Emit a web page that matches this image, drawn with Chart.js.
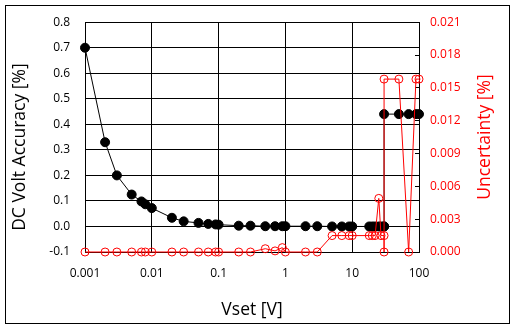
<!DOCTYPE html>
<html>
<head>
<meta charset="utf-8">
<script src="https://cdn.jsdelivr.net/npm/chart.js@4"></script>
<style>
  body { margin: 0; background: #fff; }
  #wrap { position: relative; width: 516px; height: 329px; }
  #frame { position: absolute; left: 5px; top: 5px; width: 503px; height: 317px; border: 1px solid #000; }
  #chart { position: absolute; left: 0; top: 0; }
</style>
</head>
<body>
<div id="wrap">
  <div id="frame"></div>
  <canvas id="chart" width="516" height="329"></canvas>
</div>
<script>
// Vset [V] of each reading (30 V appears several times)
const vset = [0.001, 0.002, 0.003, 0.005, 0.007, 0.008, 0.01,
              0.02, 0.03, 0.05, 0.07, 0.09, 0.1,
              0.2, 0.3, 0.5, 0.7, 0.9, 1,
              2, 3, 5, 7, 9, 10,
              18, 20, 22, 25, 27,
              30, 30, 30,
              50, 70, 90, 100];

// DC volt accuracy [%] (left axis)
const accuracy = [0.70, 0.33, 0.20, 0.125, 0.098, 0.087, 0.072,
                  0.034, 0.02, 0.014, 0.01, 0.008, 0.007,
                  0.003, 0.003, 0.001, 0.001, 0.001, 0.001,
                  0.001, 0.001, 0, 0, 0, 0,
                  0, 0, 0, 0, 0,
                  0, 0, 0.44,
                  0.44, 0.44, 0.44, 0.44];

// Uncertainty [%] (right axis)
const uncertainty = [0, 0, 0, 0, 0, 0, 0,
                     0, 0, 0, 0, 0, 0,
                     0, 0, 0.0003, 0.0001, 0.0004, 0,
                     0, 0, 0.0015, 0.0015, 0.0015, 0.0015,
                     0.0015, 0.0015, 0.0015, 0.0049, 0.0015,
                     0.0015, 0, 0.0158,
                     0.0158, 0, 0.0158, 0.0158];

const xTicks = [0.001, 0.01, 0.1, 1, 10, 100];
const xTickLabels = ['0.001', '0.01', '0.1', '1', '10', '100'];
const yLeftTicks = [-0.1, 0, 0.1, 0.2, 0.3, 0.4, 0.5, 0.6, 0.7, 0.8];
const yRightTicks = [0, 0.003, 0.006, 0.009, 0.012, 0.015, 0.018, 0.021];

const xTitle = 'Vset [V]';
const leftTitle = 'DC Volt Accuracy [%]';
const rightTitle = 'Uncertainty [%]';
const titleFont = "17.5px 'Open Sans', sans-serif";

Chart.defaults.font.family = "'Open Sans', sans-serif";
Chart.defaults.font.size = 12;
Chart.defaults.color = '#000';

const accPoints = vset.map((v, i) => ({ x: v, y: accuracy[i] }));
const uncPoints = vset.map((v, i) => ({ x: v, y: uncertainty[i] }));

// both y titles read bottom-to-top, chart.js turns the right one the other way
function drawUpTitle(c, text, x, y, color) {
    c.save();
    c.translate(x, y);
    c.rotate(-Math.PI / 2);
    c.fillStyle = color;
    c.fillText(text, 0, 0);
    c.restore();
}

const yTitles = {
    id: 'yTitles',
    afterDraw(chart) {
        const c = chart.ctx;
        const yl = chart.scales.y;
        const yr = chart.scales.y2;
        c.save();
        c.font = titleFont;
        c.textAlign = 'center';
        c.textBaseline = 'middle';
        drawUpTitle(c, leftTitle, yl.left + 20, (yl.top + yl.bottom) / 2 + 10, '#000');
        drawUpTitle(c, rightTitle, yr.right - 31, (yr.top + yr.bottom) / 2, 'red');
        c.restore();
    }
};

const ctx = document.getElementById('chart').getContext('2d');

new Chart(ctx, {
    type: 'scatter',
    data: {
        datasets: [
            {
                label: 'Uncertainty',
                data: uncPoints,
                yAxisID: 'y2',
                showLine: true,
                borderColor: 'red',
                borderWidth: 1,
                pointRadius: 4,
                pointBorderColor: 'red',
                pointBackgroundColor: 'rgba(0,0,0,0)',
                pointBorderWidth: 1,
                clip: false
            },
            {
                label: 'DC Volt Accuracy',
                data: accPoints,
                yAxisID: 'y',
                showLine: true,
                borderColor: '#000',
                borderWidth: 1,
                pointRadius: 4.5,
                pointBorderColor: '#000',
                pointBackgroundColor: '#000',
                clip: false
            }
        ]
    },
    options: {
        responsive: false,
        animation: false,
        layout: { padding: { top: 16, left: 0, right: 0, bottom: 0 } },
        plugins: {
            legend: { display: false },
            tooltip: { enabled: false }
        },
        scales: {
            x: {
                type: 'logarithmic',
                position: 'bottom',
                min: 0.001,
                max: 100,
                afterBuildTicks: s => { s.ticks = xTicks.map(v => ({ value: v })); },
                afterFit: s => { s.height = 77; },
                ticks: {
                    padding: 14,
                    maxRotation: 0,
                    autoSkip: false,
                    callback: (v, i) => xTickLabels[i]
                },
                grid: { color: '#000', drawTicks: false },
                border: { color: '#000' },
                title: {
                    display: true,
                    text: xTitle,
                    font: { size: 17.5 },
                    padding: { top: 0, bottom: 8 }
                }
            },
            y: {
                position: 'left',
                min: -0.1,
                max: 0.8,
                afterBuildTicks: s => { s.ticks = yLeftTicks.map(v => ({ value: v })); },
                afterFit: s => { s.width = 85; },
                ticks: {
                    padding: 15,
                    callback: v => v.toFixed(1)
                },
                grid: { color: '#000', drawTicks: false },
                border: { color: '#000' }
            },
            y2: {
                position: 'right',
                min: 0,
                max: 0.021,
                afterBuildTicks: s => { s.ticks = yRightTicks.map(v => ({ value: v })); },
                afterFit: s => { s.width = 97; },
                ticks: {
                    color: 'red',
                    padding: 15,
                    callback: v => v.toFixed(3)
                },
                grid: { drawOnChartArea: false, color: '#000', tickLength: -4 },
                border: { color: '#000' }
            }
        }
    },
    plugins: [yTitles]
});
</script>
</body>
</html>
